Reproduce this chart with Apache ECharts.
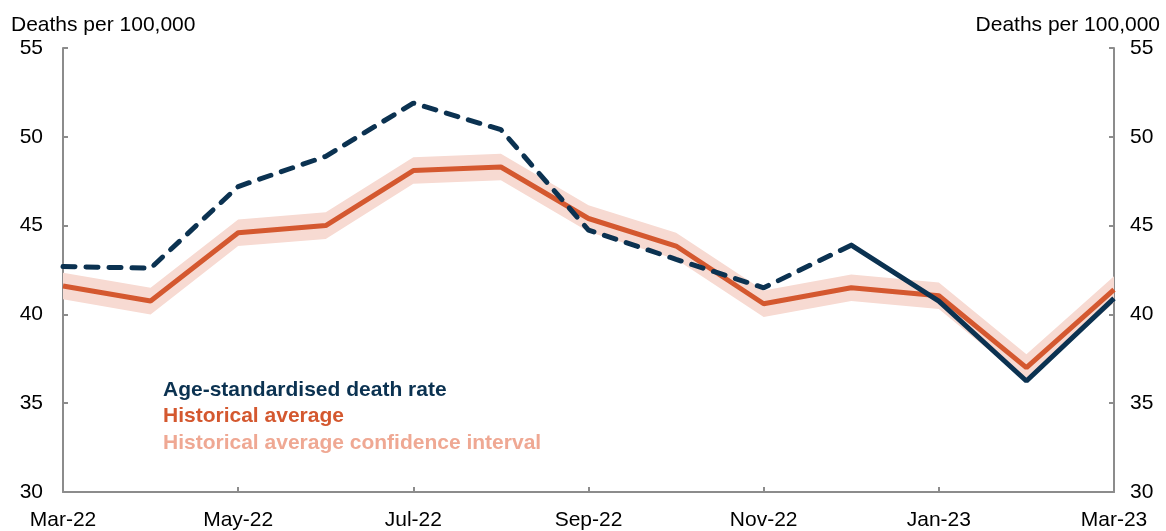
<!DOCTYPE html>
<html><head><meta charset="utf-8">
<script src="https://cdn.jsdelivr.net/npm/echarts@6/dist/echarts.min.js"></script>
<style>html,body{margin:0;padding:0;background:#fff}#c{width:1166px;height:531px}</style>
</head><body><div id="c"></div>
<script>
const categories = ['Mar-22','Apr-22','May-22','Jun-22','Jul-22','Aug-22','Sep-22','Oct-22','Nov-22','Dec-22','Jan-23','Feb-23','Mar-23'];
const deathRateDashed = [42.7, 42.6, 47.2, 48.9, 51.9, 50.4, 44.75, 43.1, 41.5, 43.9, '-', '-', '-'];
const deathRateSolid  = ['-', '-', '-', '-', '-', '-', '-', '-', '-', 43.9, 40.75, 36.25, 40.9];
const historicalAvg   = [41.6, 40.75, 44.6, 45.0, 48.1, 48.3, 45.4, 43.85, 40.6, 41.5, 41.05, 37.0, 41.4];
const ciLower         = [40.85, 40.0, 43.85, 44.25, 47.35, 47.55, 44.65, 43.1, 39.85, 40.75, 40.3, 36.25, 40.65];
const ciUpper         = [42.35, 41.5, 45.35, 45.75, 48.85, 49.05, 46.15, 44.6, 41.35, 42.25, 41.8, 37.75, 42.15];
const yTicks = [30, 35, 40, 45, 50, 55];
const axisTitle = 'Deaths per 100,000';
const legendItems = ['Age-standardised death rate', 'Historical average', 'Historical average confidence interval'];

const NAVY = '#0B3251', ORANGE = '#D4582F', PINK = '#F7DAD2', PINKTXT = '#EFA893';
const font = 'Liberation Sans, Arial, sans-serif';
const ciBand = ciUpper.map((u, i) => +(u - ciLower[i]).toFixed(2));

const chart = echarts.init(document.getElementById('c'), null, {renderer: 'canvas'});
const yAxisCommon = {
  type: 'value', min: yTicks[0], max: yTicks[yTicks.length - 1], interval: 5,
  splitLine: {show: false},
  axisLine: {show: true, lineStyle: {color: '#8c8c8c', width: 2}},
  axisTick: {show: true, inside: true, length: 5, lineStyle: {color: '#8c8c8c', width: 2}},
  axisLabel: {color: '#000', fontSize: 21, fontFamily: font}
};
chart.setOption({
  animation: false,
  grid: {left: 63, right: 52, top: 48, bottom: 39, containLabel: false},
  xAxis: {
    type: 'category', data: categories, boundaryGap: false,
    axisLine: {lineStyle: {color: '#8c8c8c', width: 2}},
    axisTick: {show: true, inside: true, length: 5, interval: 1, lineStyle: {color: '#8c8c8c', width: 2}},
    axisLabel: {interval: 1, color: '#000', fontSize: 21, fontFamily: font, margin: 18}
  },
  yAxis: [
    Object.assign({}, yAxisCommon, {position: 'left', axisLabel: Object.assign({}, yAxisCommon.axisLabel, {margin: 20, padding: [5, 0, 0, 0]})}),
    Object.assign({}, yAxisCommon, {position: 'right', axisLabel: Object.assign({}, yAxisCommon.axisLabel, {margin: 16, padding: [5, 0, 0, 0]})})
  ],
  series: [
    {type: 'line', data: ciLower, stack: 'ci', symbol: 'none', lineStyle: {opacity: 0}, silent: true},
    {type: 'line', data: ciBand, stack: 'ci', symbol: 'none', lineStyle: {opacity: 0}, areaStyle: {color: PINK, opacity: 1}, silent: true},
    {type: 'line', data: historicalAvg, symbol: 'none', lineStyle: {color: ORANGE, width: 5}},
    {type: 'line', data: deathRateDashed, symbol: 'none', lineStyle: {color: NAVY, width: 5, type: [12, 11], cap: 'round'}},
    {type: 'line', data: deathRateSolid, symbol: 'none', lineStyle: {color: NAVY, width: 5}}
  ],
  graphic: [
    {type: 'text', x: 11, y: 25, style: {text: axisTitle, font: '21px ' + font, fill: '#000', verticalAlign: 'middle'}},
    {type: 'text', x: 1160, y: 25, style: {text: axisTitle, font: '21px ' + font, fill: '#000', align: 'right', verticalAlign: 'middle'}},
    {type: 'text', x: 163, y: 390, style: {text: legendItems[0], font: 'bold 21px ' + font, fill: NAVY, verticalAlign: 'middle'}},
    {type: 'text', x: 163, y: 416, style: {text: legendItems[1], font: 'bold 21px ' + font, fill: ORANGE, verticalAlign: 'middle'}},
    {type: 'text', x: 163, y: 443, style: {text: legendItems[2], font: 'bold 21px ' + font, fill: PINKTXT, verticalAlign: 'middle'}}
  ]
});
</script></body></html>
